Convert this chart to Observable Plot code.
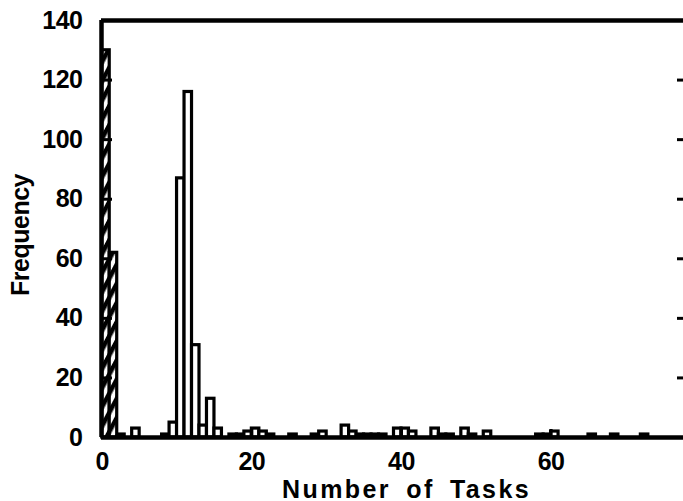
<!DOCTYPE html>
<html><head><meta charset="utf-8">
<script src="https://cdn.jsdelivr.net/npm/d3@7"></script>
<script src="https://cdn.jsdelivr.net/npm/@observablehq/plot@0.6"></script>
<style>body{margin:0;background:#fff} svg{display:block}</style>
</head><body><div id="chart"></div>
<script>
// Histogram: number of tasks (bin start) and frequency
const taskBins =    [0,   1,  2, 4, 8, 9, 10,  11, 12, 13, 14, 15, 17, 18, 19, 20, 21, 22, 25, 28, 29, 32, 33, 34, 35, 36, 37, 39, 40, 41, 44, 45, 46, 48, 49, 51, 58, 59, 60, 65, 68, 72];
const frequencies = [130, 62, 1, 3, 1, 5, 87, 116, 31, 4,  13, 3,  1,  1,  2,  3,  2,  1,  1,  1,  2,  4,  2,  1,  1,  1,  1,  3,  3,  2,  3,  1,  1,  3,  1,  2,  1,  1,  2,  1,  1,  1];
const hatchedBins = [0, 1];
const yTicks = [0, 20, 40, 60, 80, 100, 120, 140];
const yInnerTicks = [20, 40, 60, 80, 100, 120];
const xTicks = [0, 20, 40, 60];
const xInnerTicks = [20, 40, 60];
const xDomain = [-0.1, 77.7];
const yDomain = [0, 140];
const xLabel = "Number of Tasks";
const yLabel = "Frequency";

const data = taskBins.map((b, i) => ({bin: b, count: frequencies[i]}));
const plain = data.filter(d => !hatchedBins.includes(d.bin));
const hatched = data.filter(d => hatchedBins.includes(d.bin));

const W = 683, H = 501, mL = 101, mR = 0, mT = 20, mB = 64;
const pw = W - mL - mR, ph = H - mT - mB;

const chart = Plot.plot({
  width: W, height: H,
  marginLeft: mL, marginRight: mR, marginTop: mT, marginBottom: mB,
  style: {fontFamily: "'Liberation Sans', Arial, sans-serif", fontWeight: "bold", fontSize: "25px", background: "#fff", color: "#000"},
  x: {domain: xDomain, axis: null},
  y: {domain: yDomain, axis: null},
  marks: [
    Plot.rectY(plain, {x1: "bin", x2: d => d.bin + 1, y: "count", fill: "white", stroke: "black", strokeWidth: 3.2}),
    Plot.rectY(hatched, {x1: "bin", x2: d => d.bin + 1, y: "count", fill: "url(#hatch)", stroke: "black", strokeWidth: 3.2}),
    // frame (left, top, bottom)
    Plot.ruleY([yDomain[0]], {stroke: "black", strokeWidth: 4.5}),
    Plot.ruleY([yDomain[1]], {stroke: "black", strokeWidth: 4.5}),
    Plot.ruleX([xDomain[0]], {stroke: "black", strokeWidth: 4.5}),
    // inward ticks
    Plot.tickY(yInnerTicks, {y: d => d, stroke: "black", strokeWidth: 3, insetRight: pw - 11}),
    Plot.tickY(yInnerTicks, {y: d => d, stroke: "black", strokeWidth: 3, insetLeft: pw - 6}),
    Plot.tickX(xInnerTicks, {x: d => d, stroke: "black", strokeWidth: 3, insetTop: ph - 8}),
    // tick labels
    Plot.axisY(yTicks, {anchor: "left", tickSize: 0, tickPadding: 19, label: null}),
    Plot.axisX(xTicks, {anchor: "bottom", tickSize: 0, tickPadding: 15, label: null}),
    // axis titles
    Plot.text([xLabel], {frameAnchor: "bottom", dx: 14, dy: 43, lineAnchor: "top", text: d => d, fill: "black", className: "xlab"}),
    Plot.text([yLabel], {frameAnchor: "left", dx: -81, dy: 6, rotate: -90, textAnchor: "middle", lineAnchor: "middle", text: d => d, fill: "black"})
  ]
});

// hatch pattern
const svg = d3.select(chart);
const defs = svg.insert("defs", ":first-child");
const pat = defs.append("pattern")
  .attr("id", "hatch").attr("patternUnits", "userSpaceOnUse")
  .attr("width", 9).attr("height", 9)
  .attr("patternTransform", "rotate(28)");
pat.append("rect").attr("width", 9).attr("height", 9).attr("fill", "white");
pat.append("rect").attr("width", 4.5).attr("height", 9).attr("fill", "black");
svg.selectAll("text").attr("letter-spacing", "-0.5");
svg.selectAll(".xlab text").attr("letter-spacing", "2.4").attr("word-spacing", "6");
document.getElementById("chart").appendChild(chart);
</script>
</body></html>
